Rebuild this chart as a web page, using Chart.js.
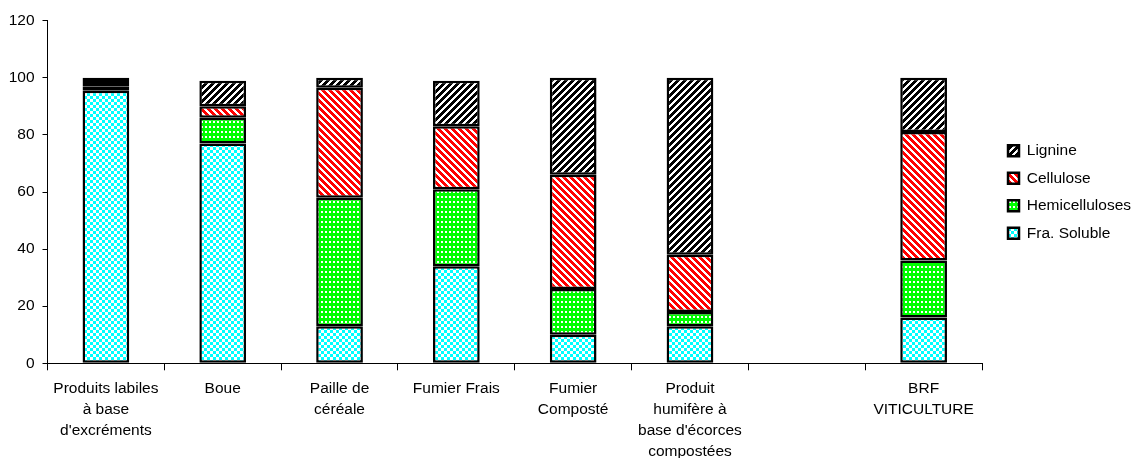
<!DOCTYPE html>
<html>
<head>
<meta charset="utf-8">
<script src="https://cdn.jsdelivr.net/npm/chart.js@4.4.1/dist/chart.umd.min.js"></script>
<style>
  html, body { margin: 0; padding: 0; background: #fff; }
  #c { display: block; }
</style>
</head>
<body>
<canvas id="c" width="1132" height="458"></canvas>
<script>
// Composition of organic materials (% of dry matter)
const categories = [
  ["Produits labiles", "à base", "d'excréments"],
  "Boue",
  ["Paille de", "céréale"],
  "Fumier Frais",
  ["Fumier", "Composté"],
  ["Produit", "humifère à", "base d'écorces", "compostées"],
  "",
  ["BRF", "VITICULTURE"]
];
const fraSoluble     = [95.5, 77, 13,   34, 10, 13, null, 16];
const hemicelluloses = [1.5,  9,  45,   27, 16, 5,  null, 20];
const cellulose      = [1.5,  4,  38.5, 22, 40, 20, null, 45];
const lignine        = [1.5,  9,  3.5,  16, 34, 62, null, 19];
const yMax = 120;
const yStep = 20;

const canvas = document.getElementById('c');
const ctx = canvas.getContext('2d');

// Small repeating tiles used as bar fills
function tile(w, h, paint) {
  const t = document.createElement('canvas');
  t.width = w; t.height = h;
  paint(t.getContext('2d'), w, h);
  return ctx.createPattern(t, 'repeat');
}
function stripes(color, dir, period, width) {
  return tile(period, period, (g) => {
    g.fillStyle = '#ffffff';
    g.fillRect(0, 0, period, period);
    g.fillStyle = color;
    for (let y = 0; y < period; y++) {
      for (let x = 0; x < period; x++) {
        const k = dir > 0 ? (x + y) % period : ((x - y) % period + period) % period;
        if (k < width) g.fillRect(x, y, 1, 1);
      }
    }
  });
}
const checkerFill = tile(6, 6, (g) => {
  g.fillStyle = '#ffffff'; g.fillRect(0, 0, 6, 6);
  g.fillStyle = '#00ffff'; g.fillRect(0, 0, 3, 3); g.fillRect(3, 3, 3, 3);
});
const dotFill = tile(4, 5, (g) => {
  g.fillStyle = '#00ff00'; g.fillRect(0, 0, 4, 5);
  g.fillStyle = '#ffffff'; g.fillRect(1, 1, 2, 2);
});
const redStripeFill = stripes('#ff0000', -1, 7, 4);
const blackStripeFill = stripes('#000000', 1, 7, 4);

const FONT = "'Liberation Sans', Arial, sans-serif";
Chart.defaults.font.family = FONT;
Chart.defaults.color = '#000';

const barStyle = {
  borderColor: '#000',
  borderWidth: 2.5,
  borderSkipped: false,
  inflateAmount: 0,
  barPercentage: 0.4,
  categoryPercentage: 1.0
};

// Moves the legend column away from the plot edge
const legendShift = {
  id: 'legendShift',
  afterLayout(chart) {
    const lg = chart.legend;
    if (!lg) return;
    const target = chart.chartArea.right + 14;
    const dx = target - lg.left;
    lg.left += dx;
    lg.right += dx;
  }
};

new Chart(ctx, {
  type: 'bar',
  data: {
    labels: categories,
    datasets: [
      Object.assign({ label: 'Fra. Soluble', data: fraSoluble, backgroundColor: checkerFill }, barStyle),
      Object.assign({ label: 'Hemicelluloses', data: hemicelluloses, backgroundColor: dotFill }, barStyle),
      Object.assign({ label: 'Cellulose', data: cellulose, backgroundColor: redStripeFill }, barStyle),
      Object.assign({ label: 'Lignine', data: lignine, backgroundColor: blackStripeFill }, barStyle)
    ]
  },
  plugins: [legendShift],
  options: {
    responsive: false,
    animation: false,
    layout: { padding: { top: 20.7, right: 5, bottom: 0, left: 0 } },
    plugins: {
      tooltip: { enabled: false },
      legend: {
        position: 'right',
        fullSize: false,
        reverse: true,
        labels: {
          boxWidth: 11,
          boxHeight: 11,
          padding: 12,
          color: '#000',
          font: { size: 15.5 }
        }
      }
    },
    scales: {
      x: {
        stacked: true,
        grid: { drawOnChartArea: false, tickLength: 7, color: '#000', offset: true },
        border: { color: '#000', width: 1 },
        ticks: {
          padding: 8,
          autoSkip: false,
          maxRotation: 0,
          color: '#000',
          font: { size: 15.5, lineHeight: 1.355 }
        },
        afterFit(s) { s.height = 94.7; }
      },
      y: {
        stacked: true,
        min: 0,
        max: yMax,
        grid: { drawOnChartArea: false, tickLength: 5, color: '#000' },
        border: { color: '#000', width: 1 },
        ticks: { stepSize: yStep, padding: 8, color: '#000', font: { size: 15.5 } },
        afterFit(s) { s.width = 47.5; }
      }
    }
  }
});
</script>
</body>
</html>
